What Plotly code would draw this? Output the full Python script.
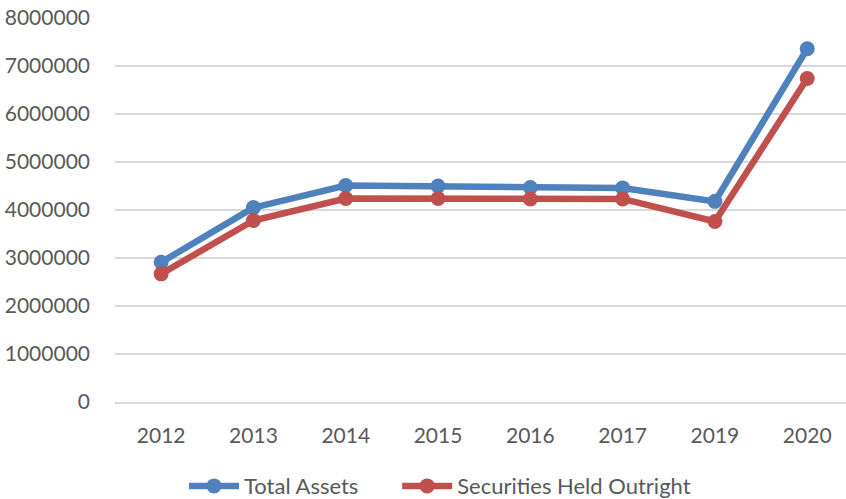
import plotly.graph_objects as go

years = ["2012", "2013", "2014", "2015", "2016", "2017", "2019", "2020"]
total_assets = [2910000, 4050000, 4510000, 4500000, 4470000, 4460000, 4180000, 7360000]
securities_held = [2670000, 3780000, 4240000, 4240000, 4230000, 4230000, 3760000, 6740000]
y_ticks = [0, 1000000, 2000000, 3000000, 4000000, 5000000, 6000000, 7000000, 8000000]

FONT = "Lato, 'Open Sans', sans-serif"
TXT = "#595959"

fig = go.Figure()
fig.add_trace(go.Scatter(
    x=years, y=total_assets, name="Total Assets", mode="lines+markers",
    line=dict(color="#4F81BD", width=6.5), marker=dict(size=15, color="#4F81BD"),
    legend="legend",
))
fig.add_trace(go.Scatter(
    x=years, y=securities_held, name="Securities Held Outright", mode="lines+markers",
    line=dict(color="#C0504D", width=6.5), marker=dict(size=15, color="#C0504D"),
    legend="legend2",
))

leg_common = dict(orientation="h", xanchor="left", y=-0.219, yanchor="middle",
                  font=dict(family=FONT, size=22, color=TXT), itemwidth=50,
                  bgcolor="rgba(0,0,0,0)")

fig.update_layout(
    width=846, height=499,
    margin=dict(l=115, r=0, t=18, b=97, autoexpand=False),
    paper_bgcolor="white", plot_bgcolor="white",
    font=dict(family=FONT, size=21, color=TXT),
    showlegend=True,
    legend=dict(x=0.0944, **leg_common),
    legend2=dict(x=0.386, **leg_common),
    xaxis=dict(type="category", range=[-0.5, 7.42], showgrid=False, automargin=False,
               showline=True, linecolor="#D9D9D9", linewidth=1.5,
               ticks="", ticklabelstandoff=14, tickfont=dict(size=21, color=TXT)),
    yaxis=dict(range=[0, 8000000], tickvals=y_ticks, ticktext=[str(v) for v in y_ticks],
               showgrid=True, gridcolor="#D9D9D9", gridwidth=1.5, zeroline=False,
               automargin=False, showline=False, ticks="", ticklabelstandoff=24,
               tickfont=dict(size=21, color=TXT)),
)

fig.write_html("out.html", config={"displayModeBar": False},
               post_script="document.body.style.margin='0';")
